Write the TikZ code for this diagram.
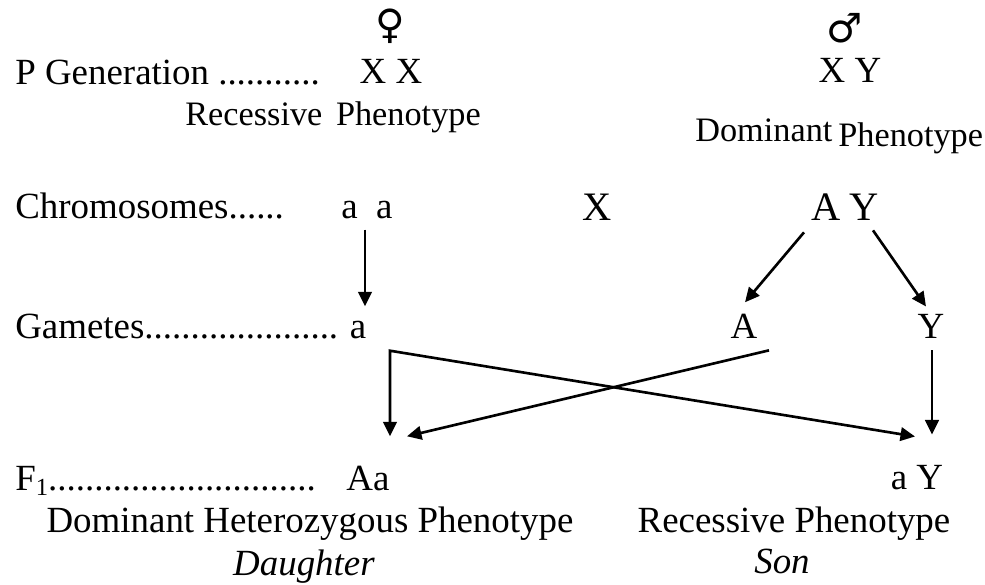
\documentclass[tikz,border=0pt]{standalone}
\usepackage{fontspec}
\setmainfont{Liberation Serif}
\newfontfamily\symfont{DejaVu Sans}
\usetikzlibrary{arrows.meta, calc}
\tikzset{
	txt/.style={inner sep=0pt, font=\fontsize{21}{25}\selectfont},
	txtsm/.style={inner sep=0pt, font=\fontsize{19.5}{24}\selectfont},
	txtbig/.style={inner sep=0pt, font=\fontsize{23}{27}\selectfont},
	sexsym/.style={inner sep=0pt, font=\symfont\fontsize{23}{28}\selectfont},
	garr/.style={-{Triangle[length=2.9mm, width=2.7mm]}, line width=1.5pt, line join=miter}
}

\begin{document}
\begin{tikzpicture}[x=0.2mm, y=-0.2mm]
	\useasboundingbox (0,0) rectangle (985,585);
	% P generation
	\node[txt, anchor=base west] (pgen) at (15,84) {P Generation ...........};
	\node[sexsym] (fem) at (390,26) {♀};
	\node[txt, anchor=base] (xx) at (391,83) {X X};
	\node[txtsm, anchor=base west] (recp) at (185,125) {Recessive\hspace{0.4em}Phenotype};
	\node[sexsym] (male) at (845,28) {♂};
	\node[txt, anchor=base] (xy) at (850,82) {X Y};
	\node[txtsm, anchor=base west] (domw) at (695,141) {Dominant};
	\node[txtsm, anchor=base west] (phen) at (838,146) {Phenotype};
	% chromosomes
	\node[txt, anchor=base west] (chrom) at (15,218) {Chromosomes......};
	\node[txt, anchor=base] (aa) at (367,218) {a\ \ a};
	\node[txtbig, anchor=base] (cross) at (597,220) {X};
	\node[txtbig, anchor=base] (cA) at (826,220) {A};
	\node[txtbig, anchor=base] (cY) at (864,220) {Y};
	% gametes
	\node[txt, anchor=base west] (gam) at (15,338) {Gametes.....................};
	\node[txt, anchor=base] (ga) at (358,338) {a};
	\node[txt, anchor=base] (gA) at (744,338) {A};
	\node[txt, anchor=base] (gY) at (931,338) {Y};
	% F1
	\node[txt, anchor=base west] (fone) at (15,490) {F\raisebox{-0.3ex}{\fontsize{14}{14}\selectfont 1}.............................};
	\node[txt, anchor=base] (Aa) at (368,490) {Aa};
	\node[txt, anchor=base] (aY) at (917,489) {a Y};
	\node[txt, anchor=base] (domhet) at (310,532) {Dominant Heterozygous Phenotype};
	\node[txt, anchor=base] (daughter) at (304,575) {\textit{Daughter}};
	\node[txt, anchor=base] (recs) at (794,532) {Recessive Phenotype};
	\node[txt, anchor=base] (son) at (782,573) {\textit{Son}};
	% arrows
	\coordinate (split) at ($(ga.south)+(32,12)$);
	\draw[garr] ($(aa.south)+(-2,11)$) -- ($(ga.north)+(7,-14)$);
	\draw[garr] ($(cA.south)+(-22,12)$) -- ($(gA.north)+(1,-11)$);
	\draw[garr] ($(cY.south)+(9,10)$) -- ($(gY.north)+(-5,-7)$);
	\draw[garr, {Triangle[length=2.9mm, width=2.7mm]}-{Triangle[length=2.9mm, width=2.7mm]}] ($(Aa.north)+(22,-29)$) -- (split) -- ($(aY.north)+(-2,-28)$);
	\draw[garr] ($(gA.south)+(25,12)$) -- ($(Aa.north)+(39,-29)$);
	\draw[garr] ($(gY.south)+(1,12)$) -- ($(aY.north)+(15,-30)$);
\end{tikzpicture}
\end{document}
